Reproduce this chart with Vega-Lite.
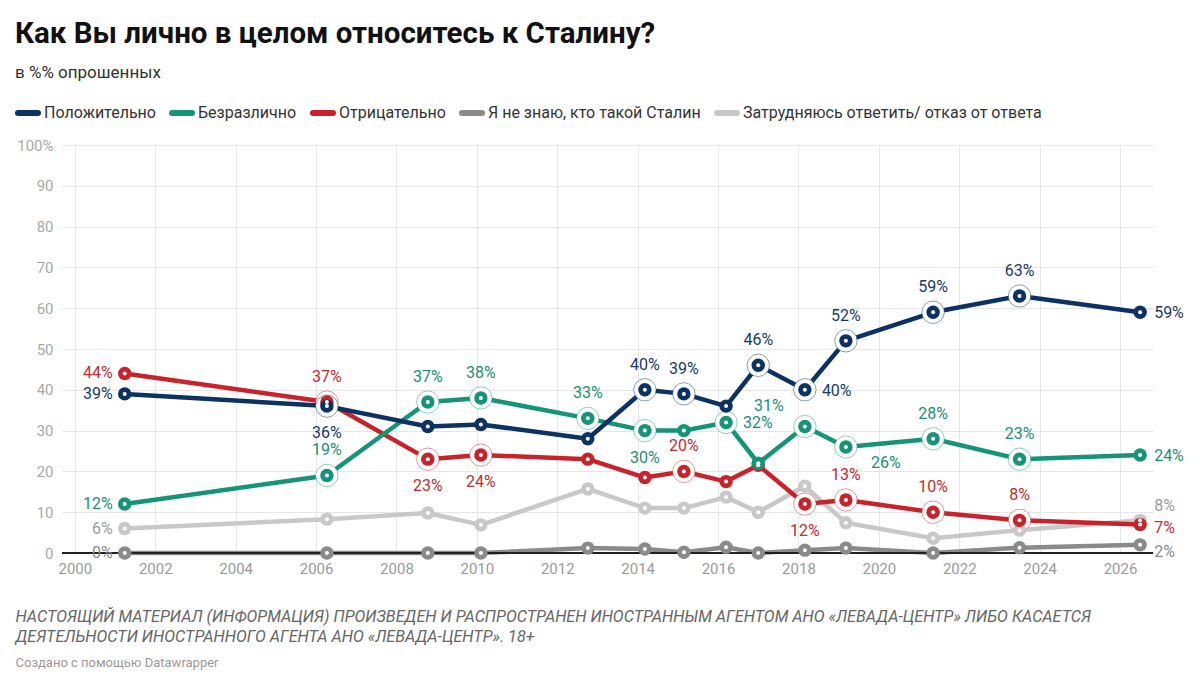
{
  "$schema": "https://vega.github.io/schema/vega-lite/v6.json",
  "width": 1091,
  "height": 408,
  "autosize": {"type": "none"},
  "padding": {"left": 62, "top": 145, "right": 47, "bottom": 132},
  "background": "white",
  "config": {
    "font": "Roboto",
    "view": {"stroke": null}
  },
  "title": {
    "text": "Как Вы лично в целом относитесь к Сталину?",
    "subtitle": "в %% опрошенных",
    "anchor": "start",
    "frame": "group",
    "dx": -47,
    "offset": 18,
    "fontSize": 29.5,
    "fontWeight": "bold",
    "color": "#111111",
    "subtitleFontSize": 17,
    "subtitleColor": "#333333",
    "subtitlePadding": 16
  },
  "data": {
    "values": [
      {"series": "Затрудняюсь ответить/ отказ от ответа", "year": 2001.24, "value": 6},
      {"series": "Затрудняюсь ответить/ отказ от ответа", "year": 2006.27, "value": 8.3},
      {"series": "Затрудняюсь ответить/ отказ от ответа", "year": 2008.78, "value": 9.8},
      {"series": "Затрудняюсь ответить/ отказ от ответа", "year": 2010.1, "value": 6.9},
      {"series": "Затрудняюсь ответить/ отказ от ответа", "year": 2012.76, "value": 15.7},
      {"series": "Затрудняюсь ответить/ отказ от ответа", "year": 2014.18, "value": 11},
      {"series": "Затрудняюсь ответить/ отказ от ответа", "year": 2015.15, "value": 11},
      {"series": "Затрудняюсь ответить/ отказ от ответа", "year": 2016.2, "value": 13.7},
      {"series": "Затрудняюсь ответить/ отказ от ответа", "year": 2017, "value": 10},
      {"series": "Затрудняюсь ответить/ отказ от ответа", "year": 2018.16, "value": 16.4},
      {"series": "Затрудняюсь ответить/ отказ от ответа", "year": 2019.18, "value": 7.4},
      {"series": "Затрудняюсь ответить/ отказ от ответа", "year": 2021.35, "value": 3.6},
      {"series": "Затрудняюсь ответить/ отказ от ответа", "year": 2023.5, "value": 5.6},
      {"series": "Затрудняюсь ответить/ отказ от ответа", "year": 2026.5, "value": 8},
      {"series": "Я не знаю, кто такой Сталин", "year": 2001.24, "value": 0},
      {"series": "Я не знаю, кто такой Сталин", "year": 2006.27, "value": 0},
      {"series": "Я не знаю, кто такой Сталин", "year": 2008.78, "value": 0},
      {"series": "Я не знаю, кто такой Сталин", "year": 2010.1, "value": 0},
      {"series": "Я не знаю, кто такой Сталин", "year": 2012.76, "value": 1.2},
      {"series": "Я не знаю, кто такой Сталин", "year": 2014.18, "value": 1},
      {"series": "Я не знаю, кто такой Сталин", "year": 2015.15, "value": 0.2},
      {"series": "Я не знаю, кто такой Сталин", "year": 2016.2, "value": 1.4},
      {"series": "Я не знаю, кто такой Сталин", "year": 2017, "value": 0},
      {"series": "Я не знаю, кто такой Сталин", "year": 2018.16, "value": 0.7},
      {"series": "Я не знаю, кто такой Сталин", "year": 2019.18, "value": 1.2},
      {"series": "Я не знаю, кто такой Сталин", "year": 2021.35, "value": 0},
      {"series": "Я не знаю, кто такой Сталин", "year": 2023.5, "value": 1.3},
      {"series": "Я не знаю, кто такой Сталин", "year": 2026.5, "value": 2},
      {"series": "Отрицательно", "year": 2001.24, "value": 44},
      {"series": "Отрицательно", "year": 2006.27, "value": 37},
      {"series": "Отрицательно", "year": 2008.78, "value": 23},
      {"series": "Отрицательно", "year": 2010.1, "value": 24},
      {"series": "Отрицательно", "year": 2012.76, "value": 23},
      {"series": "Отрицательно", "year": 2014.18, "value": 18.5},
      {"series": "Отрицательно", "year": 2015.15, "value": 20},
      {"series": "Отрицательно", "year": 2016.2, "value": 17.5},
      {"series": "Отрицательно", "year": 2017, "value": 21.5},
      {"series": "Отрицательно", "year": 2018.16, "value": 12},
      {"series": "Отрицательно", "year": 2019.18, "value": 13},
      {"series": "Отрицательно", "year": 2021.35, "value": 10},
      {"series": "Отрицательно", "year": 2023.5, "value": 8},
      {"series": "Отрицательно", "year": 2026.5, "value": 7},
      {"series": "Безразлично", "year": 2001.24, "value": 12},
      {"series": "Безразлично", "year": 2006.27, "value": 19},
      {"series": "Безразлично", "year": 2008.78, "value": 37},
      {"series": "Безразлично", "year": 2010.1, "value": 38},
      {"series": "Безразлично", "year": 2012.76, "value": 33},
      {"series": "Безразлично", "year": 2014.18, "value": 30},
      {"series": "Безразлично", "year": 2015.15, "value": 30},
      {"series": "Безразлично", "year": 2016.2, "value": 32},
      {"series": "Безразлично", "year": 2017, "value": 22},
      {"series": "Безразлично", "year": 2018.16, "value": 31},
      {"series": "Безразлично", "year": 2019.18, "value": 26},
      {"series": "Безразлично", "year": 2021.35, "value": 28},
      {"series": "Безразлично", "year": 2023.5, "value": 23},
      {"series": "Безразлично", "year": 2026.5, "value": 24},
      {"series": "Положительно", "year": 2001.24, "value": 39},
      {"series": "Положительно", "year": 2006.27, "value": 36},
      {"series": "Положительно", "year": 2008.78, "value": 31},
      {"series": "Положительно", "year": 2010.1, "value": 31.5},
      {"series": "Положительно", "year": 2012.76, "value": 28},
      {"series": "Положительно", "year": 2014.18, "value": 40},
      {"series": "Положительно", "year": 2015.15, "value": 39},
      {"series": "Положительно", "year": 2016.2, "value": 36},
      {"series": "Положительно", "year": 2017, "value": 46},
      {"series": "Положительно", "year": 2018.16, "value": 40},
      {"series": "Положительно", "year": 2019.18, "value": 52},
      {"series": "Положительно", "year": 2021.35, "value": 59},
      {"series": "Положительно", "year": 2023.5, "value": 63},
      {"series": "Положительно", "year": 2026.5, "value": 59}
    ]
  },
  "encoding": {
    "x": {
      "field": "year",
      "type": "quantitative",
      "scale": {"domain": [1999.68, 2026.82], "nice": false, "zero": false},
      "axis": {
        "values": [2000, 2002, 2004, 2006, 2008, 2010, 2012, 2014, 2016, 2018, 2020, 2022, 2024, 2026],
        "format": "d",
        "labelFontSize": 15,
        "labelColor": "#9a9a9a",
        "labelPadding": 8,
        "grid": true,
        "gridColor": "#e6e6e6",
        "domain": false,
        "ticks": false,
        "title": [
          "НАСТОЯЩИЙ МАТЕРИАЛ (ИНФОРМАЦИЯ) ПРОИЗВЕДЕН И РАСПРОСТРАНЕН ИНОСТРАННЫМ АГЕНТОМ АНО «ЛЕВАДА-ЦЕНТР» ЛИБО КАСАЕТСЯ",
          "ДЕЯТЕЛЬНОСТИ ИНОСТРАННОГО АГЕНТА АНО «ЛЕВАДА-ЦЕНТР». 18+"
        ],
        "titleX": -47,
        "titleY": 55,
        "titleAlign": "left",
        "titleBaseline": "top",
        "titleFontSize": 16.2,
        "titleFontStyle": "italic",
        "titleFontWeight": "normal",
        "titleColor": "#666666",
        "titleLineHeight": 20
      }
    },
    "y": {
      "field": "value",
      "type": "quantitative",
      "scale": {"domain": [0, 100], "nice": false},
      "axis": {
        "values": [0, 10, 20, 30, 40, 50, 60, 70, 80, 90, 100],
        "labelExpr": "datum.value == 100 ? '100%' : datum.label",
        "labelFontSize": 15,
        "labelColor": "#a8a8a8",
        "labelPadding": 9,
        "grid": true,
        "gridColor": "#e6e6e6",
        "domain": false,
        "ticks": false,
        "title": "Создано с помощью Datawrapper",
        "titleAngle": 0,
        "titleX": -47,
        "titleY": 517,
        "titleAlign": "left",
        "titleBaseline": "middle",
        "titleFontSize": 13,
        "titleFontWeight": "normal",
        "titleColor": "#999999"
      }
    }
  },
  "layer": [
    {
      "mark": {"type": "line", "strokeWidth": 4.5, "strokeCap": "round", "strokeJoin": "round"},
      "encoding": {
        "color": {
          "field": "series",
          "type": "nominal",
          "scale": {
            "domain": ["Положительно", "Безразлично", "Отрицательно", "Я не знаю, кто такой Сталин", "Затрудняюсь ответить/ отказ от ответа"],
            "range": ["#0c3163", "#159477", "#c8232b", "#8a8a8a", "#c8c8c8"]
          },
          "legend": {
            "orient": "none",
            "legendX": -47,
            "legendY": -45,
            "direction": "horizontal",
            "title": null,
            "symbolType": "M-1,0L1,0",
            "symbolSize": 400,
            "symbolStrokeWidth": 6,
            "labelFontSize": 16,
            "labelColor": "#333333",
            "labelOffset": 3,
            "labelLimit": 500,
            "columnPadding": 4,
            "encode": {"symbols": {"update": {"strokeCap": {"value": "round"}}}}
          }
        }
      }
    },
    {
      "mark": {"type": "rule", "color": "#222222", "strokeWidth": 1.3},
      "encoding": {"y": {"datum": 0}, "x": {"value": 0}, "x2": {"value": 1091}}
    },
    {
      "transform": [
        {"filter": "(datum.series == 'Положительно' && indexof([2006.27,2014.18,2015.15,2017,2018.16,2019.18,2021.35,2023.5], datum.year) >= 0) || (datum.series == 'Безразлично' && indexof([2006.27,2008.78,2010.1,2012.76,2014.18,2016.2,2018.16,2019.18,2021.35,2023.5], datum.year) >= 0) || (datum.series == 'Отрицательно' && indexof([2006.27,2008.78,2010.1,2015.15,2018.16,2019.18,2021.35,2023.5], datum.year) >= 0)"}
      ],
      "mark": {"type": "point", "shape": "circle", "filled": false, "size": 500, "strokeWidth": 0.8, "fill": "white", "fillOpacity": 1, "strokeOpacity": 0.6},
      "encoding": {"color": {"field": "series", "type": "nominal", "legend": null}}
    },
    {
      "mark": {"type": "point", "shape": "circle", "filled": true, "size": 180, "opacity": 1},
      "encoding": {"color": {"field": "series", "type": "nominal", "legend": null}}
    },
    {
      "mark": {"type": "point", "shape": "circle", "filled": true, "size": 16, "color": "white", "opacity": 1}
    },
    {
      "transform": [{"filter": "datum.year < 2002"}],
      "mark": {"type": "text", "align": "right", "baseline": "middle", "dx": -12, "fontSize": 16, "text": {"expr": "format(datum.value, '.0f') + '%'"}},
      "encoding": {"fill": {"field": "series", "type": "nominal", "legend": null, "scale": {"domain": ["Положительно", "Безразлично", "Отрицательно", "Я не знаю, кто такой Сталин", "Затрудняюсь ответить/ отказ от ответа"], "range": ["#163a6b", "#1b8f74", "#c52a31", "#8a8a8a", "#9a9a9a"]}}}
    },
    {
      "transform": [{"filter": "datum.year > 2026 && (datum.series == 'Положительно' || datum.series == 'Безразлично')"}],
      "mark": {"type": "text", "align": "left", "baseline": "middle", "dx": 14, "dy": 1, "fontSize": 16, "text": {"expr": "format(datum.value, '.0f') + '%'"}},
      "encoding": {"fill": {"field": "series", "type": "nominal", "legend": null}}
    },
    {
      "transform": [{"filter": "datum.year > 2026 && datum.series == 'Отрицательно'"}],
      "mark": {"type": "text", "align": "left", "baseline": "middle", "dx": 14, "dy": 4, "fontSize": 16, "text": {"expr": "format(datum.value, '.0f') + '%'"}},
      "encoding": {"fill": {"field": "series", "type": "nominal", "legend": null}}
    },
    {
      "transform": [{"filter": "datum.year > 2026 && datum.series == 'Затрудняюсь ответить/ отказ от ответа'"}],
      "mark": {"type": "text", "align": "left", "baseline": "middle", "dx": 14, "dy": -14, "fontSize": 16, "text": {"expr": "format(datum.value, '.0f') + '%'"}},
      "encoding": {"fill": {"field": "series", "type": "nominal", "legend": null}}
    },
    {
      "transform": [{"filter": "datum.year > 2026 && datum.series == 'Я не знаю, кто такой Сталин'"}],
      "mark": {"type": "text", "align": "left", "baseline": "middle", "dx": 14, "dy": 7, "fontSize": 16, "text": {"expr": "format(datum.value, '.0f') + '%'"}},
      "encoding": {"fill": {"field": "series", "type": "nominal", "legend": null}}
    },
    {
      "transform": [{"filter": "(datum.series == 'Положительно' && datum.year == 2018.16) || (datum.series == 'Безразлично' && datum.year == 2016.2)"}],
      "mark": {"type": "text", "align": "left", "baseline": "middle", "dx": 17, "dy": 1, "fontSize": 16, "text": {"expr": "format(datum.value, '.0f') + '%'"}},
      "encoding": {"fill": {"field": "series", "type": "nominal", "legend": null}}
    },
    {
      "transform": [{"filter": "(datum.series == 'Положительно' && indexof([2014.18,2015.15,2017,2019.18,2021.35,2023.5], datum.year) >= 0) || (datum.series == 'Безразлично' && indexof([2006.27,2008.78,2010.1,2012.76,2021.35,2023.5], datum.year) >= 0) || (datum.series == 'Отрицательно' && indexof([2006.27,2015.15,2019.18,2021.35,2023.5], datum.year) >= 0)"}],
      "mark": {"type": "text", "align": "center", "baseline": "middle", "dy": -25, "fontSize": 16, "text": {"expr": "format(datum.value, '.0f') + '%'"}},
      "encoding": {"fill": {"field": "series", "type": "nominal", "legend": null}}
    },
    {
      "transform": [{"filter": "(datum.series == 'Положительно' && datum.year == 2006.27) || (datum.series == 'Безразлично' && datum.year == 2014.18) || (datum.series == 'Отрицательно' && indexof([2008.78,2010.1,2018.16], datum.year) >= 0)"}],
      "mark": {"type": "text", "align": "center", "baseline": "middle", "dy": 27, "fontSize": 16, "text": {"expr": "format(datum.value, '.0f') + '%'"}},
      "encoding": {"fill": {"field": "series", "type": "nominal", "legend": null}}
    },
    {
      "transform": [{"filter": "datum.series == 'Безразлично' && datum.year == 2018.16"}],
      "mark": {"type": "text", "align": "center", "baseline": "middle", "dx": -36, "dy": -21, "fontSize": 16, "text": {"expr": "format(datum.value, '.0f') + '%'"}},
      "encoding": {"fill": {"field": "series", "type": "nominal", "legend": null}}
    },
    {
      "transform": [{"filter": "datum.series == 'Безразлично' && datum.year == 2019.18"}],
      "mark": {"type": "text", "align": "center", "baseline": "middle", "dx": 40, "dy": 16, "fontSize": 16, "text": {"expr": "format(datum.value, '.0f') + '%'"}},
      "encoding": {"fill": {"field": "series", "type": "nominal", "legend": null}}
    }
  ]
}
